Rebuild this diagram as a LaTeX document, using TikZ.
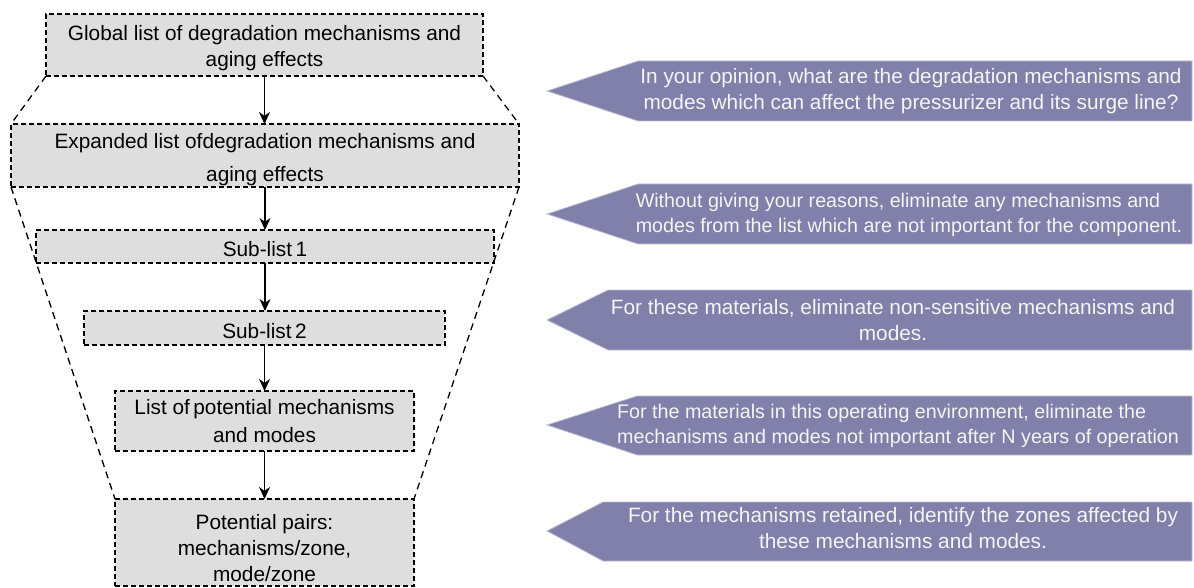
\documentclass[tikz,border=0pt]{standalone}
\usepackage{fontspec}
\setmainfont{Liberation Sans}
\usetikzlibrary{arrows.meta}
\definecolor{boxfill}{RGB}{222,222,222}
\definecolor{callfill}{RGB}{128,128,170}
\definecolor{calledge}{RGB}{190,190,215}
\definecolor{calltxt}{RGB}{245,245,245}
\begin{document}
\begin{tikzpicture}[x=1pt,y=-1pt,
 box/.style={draw=black, fill=boxfill, dash pattern=on 5pt off 3pt, line width=1.4pt, inner sep=0pt, outer sep=0pt, align=center, font=\fontsize{20.8}{26}\selectfont},
 flow/.style={line width=1.7pt, -{Stealth[length=12pt,width=11pt]}},
 funnel/.style={line width=1.3pt, dash pattern=on 7pt off 5pt},
 callout/.style={fill=callfill, draw=calledge, line width=0.8pt},
 calltext/.style={text=calltxt, align=center, inner sep=0pt, font=\fontsize{20.8}{25.5}\selectfont},
 smalltext/.style={font=\fontsize{19.7}{25}\selectfont}]
\useasboundingbox (0,0) rectangle (1194,588);

% boxes
\node[box, minimum width=437pt, minimum height=62pt] (b1) at (264.5,45) {\rule{0pt}{21pt}Global list of degradation mechanisms and\\aging effects};
\node[box, minimum width=508pt, minimum height=63pt] (b2) at (265,155.5) {\rule{0pt}{23pt}Expanded list ofdegradation mechanisms and\\[7pt]aging effects};
\node[box, minimum width=458pt, minimum height=33pt] (b3) at (265,246.5) {\rule{0pt}{21pt}Sub-list\,1};
\node[box, minimum width=361pt, minimum height=34pt] (b4) at (264.5,328) {\rule{0pt}{21pt}Sub-list\,2};
\node[box, minimum width=299pt, minimum height=60pt] (b5) at (264.5,421) {List of\,potential mechanisms\\[2pt]and modes};
\node[box, minimum width=299pt, minimum height=87pt] (b6) at (264.5,542.5) {\rule{0pt}{27pt}Potential pairs:\\mechanisms/zone,\\mode/zone};

% funnel
\draw[funnel] (b1.south west) -- (b2.north west);
\draw[funnel] (b1.south east) -- (b2.north east);
\draw[funnel] (b2.south west) -- (b6.north west);
\draw[funnel] (b2.south east) -- (b6.north east);

% flow arrows
\draw[flow] (b1.south) -- (b1.south |- b2.north);
\draw[flow] (b2.south) -- (b2.south |- b3.north);
\draw[flow] (b3.south) -- (b3.south |- b4.north);
\draw[flow] (b4.south) -- (b4.south |- b5.north);
\draw[flow] (b5.south) -- (b5.south |- b6.north);

% callouts
\draw[callout] (547,91) -- (638,61) -- (1192,61) -- (1192,121) -- (638,121) -- cycle;
\node[calltext] (c1) at (911,91) {In your opinion, what are the degradation mechanisms and\\modes which can affect the pressurizer and its surge line?};

\draw[callout] (547,214) -- (638,184) -- (1192,184) -- (1192,244) -- (638,244) -- cycle;
\node[calltext, smalltext] (c2) at (909,215) {Without giving your reasons, eliminate any mechanisms and\hspace*{22pt}\\modes from the list which are not important for the component.};

\draw[callout] (547,320) -- (608,290) -- (1192,290) -- (1192,350) -- (608,350) -- cycle;
\node[calltext] (c3) at (893,320) {For these materials, eliminate non-sensitive mechanisms and\\modes.};

\draw[callout] (547,425) -- (637,396) -- (1192,396) -- (1192,455) -- (637,455) -- cycle;
\node[calltext, smalltext, align=left, anchor=west] (c4) at (617,426) {For the materials in this operating environment, eliminate the\\mechanisms and modes not important after N years of operation};

\draw[callout] (547,531) -- (603,502) -- (1192,502) -- (1192,561) -- (603,561) -- cycle;
\node[calltext] (c5) at (903,528) {For the mechanisms retained, identify the zones affected by\\these mechanisms and modes.};
\end{tikzpicture}
\end{document}
